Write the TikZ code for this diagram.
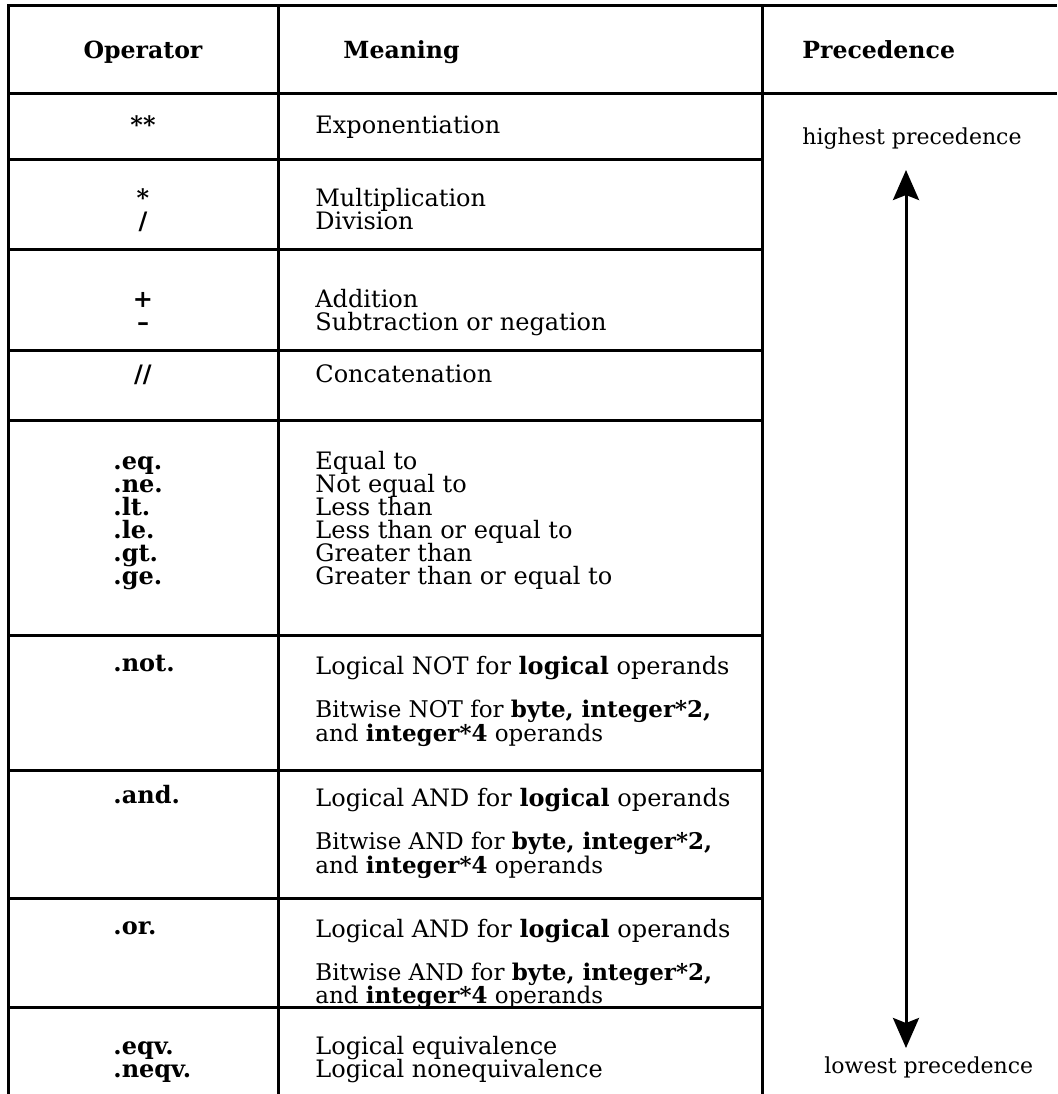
\documentclass[tikz,border=0pt]{standalone}
\usepackage{fontspec}
\setmainfont{DejaVu Serif}
\usetikzlibrary{arrows.meta}
\begin{document}
\begin{tikzpicture}[x=0.5pt,y=-0.5pt,
  rule/.style={line width=1.5pt},
  body/.style={inner sep=0pt, font=\fontsize{12}{14}\selectfont},
  txt/.style={body, anchor=base west},
  small/.style={txt, font=\fontsize{11.5}{13}\selectfont},
  optxt/.style={body, anchor=base west, font=\fontsize{12}{14}\selectfont\bfseries},
  sym/.style={body, anchor=base, font=\fontsize{12}{14}\selectfont\bfseries},
  hdr/.style={body, font=\fontsize{11.8}{14}\selectfont\bfseries},
  prec/.style={line width=1.5pt, {Stealth[length=15pt,width=13pt,inset=2.5pt]}-{Stealth[length=15pt,width=13pt,inset=2.5pt]}}]
\useasboundingbox (0,0) rectangle (1057,1094);

% frame and column rules
\draw[rule] (8,5) -- (1057,5);
\draw[rule] (8,93) -- (1057,93);
\draw[rule] (8,4) -- (8,1094);
\draw[rule] (278,4) -- (278,1094);
\draw[rule] (762,4) -- (762,1094);
\foreach \y in {159,249,350,420,635,770,898,1007}
  \draw[rule] (8,\y) -- (762,\y);

% headers
\node[hdr, anchor=base] (hop) at (143,58) {Operator};
\node[hdr, anchor=base west] (hmean) at (343,58) {Meaning};
\node[hdr, anchor=base west] (hprec) at (802,58) {Precedence};

% arithmetic and string operators
\node[sym] (pow) at (143,133) {**};
\node[txt] (mpow) at (315,133) {Exponentiation};
\node[sym] (mul) at (143,206) {*};
\node[sym] (dvd) at (143,229) {/};
\node[txt] (mmul) at (315,206) {Multiplication};
\node[txt] (mdvd) at (315,229) {Division};
\node[sym] (add) at (143,307) {+};
\node[sym] (sub) at (143,330) {--};
\node[txt] (madd) at (315,307) {Addition};
\node[txt] (msub) at (315,330) {Subtraction or negation};
\node[sym] (cat) at (143,382) {//};
\node[txt] (mcat) at (315,382) {Concatenation};

% relational operators
\node[optxt] (eq) at (113,469) {.eq.};
\node[optxt] (ne) at (113,492) {.ne.};
\node[optxt] (lt) at (113,515) {.lt.};
\node[optxt] (le) at (113,538) {.le.};
\node[optxt] (gt) at (113,561) {.gt.};
\node[optxt] (ge) at (113,584) {.ge.};
\node[txt] (meq) at (315,469) {Equal to};
\node[txt] (mne) at (315,492) {Not equal to};
\node[txt] (mlt) at (315,515) {Less than};
\node[txt] (mle) at (315,538) {Less than or equal to};
\node[txt] (mgt) at (315,561) {Greater than};
\node[txt] (mge) at (315,584) {Greater than or equal to};

% logical operators
\node[optxt] (not) at (113,671) {.not.};
\node[txt] (mnot1) at (315,674) {Logical NOT for \textbf{logical} operands};
\node[small] (mnot2) at (315,717) {Bitwise NOT for \textbf{byte, integer*2,}};
\node[small] (mnot3) at (315,741) {and \textbf{integer*4} operands};

\node[optxt] (and) at (113,803) {.and.};
\node[txt] (mand1) at (315,806) {Logical AND for \textbf{logical} operands};
\node[small] (mand2) at (315,849) {Bitwise AND for \textbf{byte, integer*2,}};
\node[small] (mand3) at (315,873) {and \textbf{integer*4} operands};

\node[optxt] (or) at (113,934) {.or.};
\node[txt] (mor1) at (315,937) {Logical AND for \textbf{logical} operands};
\node[small] (mor2) at (315,980) {Bitwise AND for \textbf{byte, integer*2,}};
\node[small] (mor3) at (315,1003) {and \textbf{integer*4} operands};

\node[optxt] (eqv) at (113,1054) {.eqv.};
\node[optxt] (neqv) at (113,1077) {.neqv.};
\node[txt] (meqv) at (315,1054) {Logical equivalence};
\node[txt] (mneqv) at (315,1077) {Logical nonequivalence};

% precedence scale
\node[txt, font=\fontsize{11}{13}\selectfont] (high) at (802,144) {highest precedence};
\node[txt, font=\fontsize{11}{13}\selectfont] (low) at (824,1073) {lowest precedence};
\coordinate (ptop) at (906,170);
\coordinate (pbot) at (906,1048);
\draw[prec] (ptop) -- (pbot);
\end{tikzpicture}
\end{document}
